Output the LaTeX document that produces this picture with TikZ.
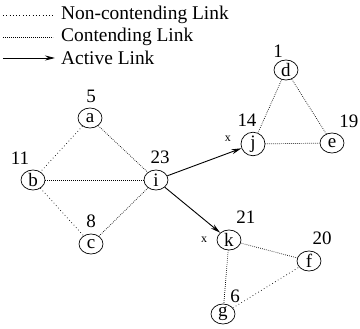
\documentclass[tikz,border=0pt]{standalone}
\usepackage{fontspec}
\setmainfont{Liberation Serif}
\usetikzlibrary{shapes.geometric,arrows.meta}
\tikzset{
  vtx/.style={ellipse,draw,line width=0.7pt,minimum width=24pt,minimum height=20pt,inner sep=0pt,font=\fontsize{19}{19}\selectfont},
  num/.style={inner sep=0pt,font=\fontsize{19}{19}\selectfont},
  xlab/.style={inner sep=0pt,font=\fontsize{12}{12}\selectfont},
  leg/.style={inner sep=0pt,anchor=west,font=\fontsize{19.4}{19.4}\selectfont},
  noncont/.style={line width=0.7pt,dash pattern=on 0.7pt off 2.6pt},
  cont/.style={line width=0.7pt,dash pattern=on 0.7pt off 1.3pt},
  active/.style={line width=0.9pt,-{Stealth[length=10pt,width=5pt]}}
}
\begin{document}
\begin{tikzpicture}[x=1pt,y=-1pt]
\useasboundingbox (0,0) rectangle (360,329);
% legend
\coordinate (l1a) at (3,15); \coordinate (l1b) at (53,15);
\coordinate (l2a) at (3,37); \coordinate (l2b) at (53,37);
\coordinate (l3a) at (3,58); \coordinate (l3b) at (55,58);
\draw[noncont] (l1a) -- (l1b);
\draw[cont] (l2a) -- (l2b);
\draw[active] (l3a) -- (l3b);
\node[leg] (t1) at (61,15) {Non-contending Link};
\node[leg] (t2) at (61,37) {Contending Link};
\node[leg] (t3) at (61,58) {Active Link};
% nodes
\node[vtx] (a) at (90,118) {a};
\node[vtx] (b) at (33,180) {b};
\node[vtx] (i) at (156,180) {i};
\node[vtx] (c) at (91,244) {c};
\node[vtx] (d) at (286,70) {d};
\node[vtx] (j) at (253,144) {j};
\node[vtx] (e) at (332,143) {e};
\node[vtx] (k) at (229,240) {k};
\node[vtx] (f) at (309,261) {f};
\node[vtx] (g) at (223,314) {g};
% numbers
\node[num] (n5) at (91,96) {5};
\node[num] (n11) at (20,158) {11};
\node[num] (n23) at (160,157) {23};
\node[num] (n8) at (91,221) {8};
\node[num] (n1) at (278,51) {1};
\node[num] (n14) at (247,120) {14};
\node[num] (n19) at (349,121) {19};
\node[num] (n21) at (246,217) {21};
\node[num] (n20) at (322,238) {20};
\node[num] (n6) at (235,296) {6};
\node[xlab] (xj) at (228,139) {x};
\node[xlab] (xk) at (204,240) {x};
% links
\draw[noncont] (a) -- (b);
\draw[cont] (a) -- (i);
\draw[cont] (b) -- (i);
\draw[noncont] (b) -- (c);
\draw[cont] (c) -- (i);
\draw[cont] (d) -- (j);
\draw[cont] (d) -- (e);
\draw[cont] (j) -- (e);
\draw[cont] (k) -- (f);
\draw[cont] (k) -- (g);
\draw[noncont] (g) -- (f);
\draw[active] (i) -- (j);
\draw[active] (i) -- (k);
\end{tikzpicture}
\end{document}
